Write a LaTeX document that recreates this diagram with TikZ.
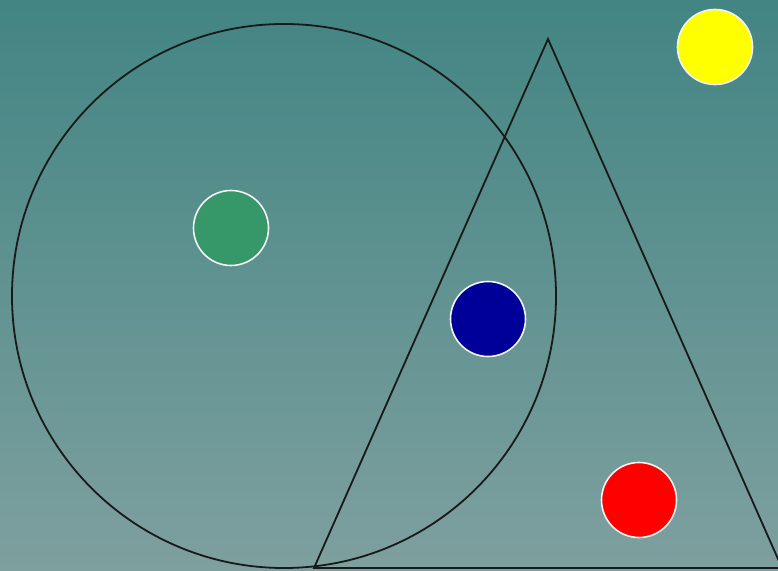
\documentclass[tikz,border=0pt]{standalone}
\begin{document}
\begin{tikzpicture}[x=1pt,y=1pt,
  dot/.style={circle,draw=white!90!gray,line width=1.6pt,minimum size=75pt,inner sep=0pt},
  outline/.style={draw=black!90,line width=1.8pt}]
\definecolor{bgtop}{RGB}{66,133,131}
\definecolor{bgbot}{RGB}{126,160,159}
\definecolor{dotgreen}{RGB}{54,152,104}
\definecolor{dotblue}{RGB}{0,0,153}
\definecolor{dotyellow}{RGB}{255,255,0}
\useasboundingbox (0,0) rectangle (778,570);
\clip (0,0) rectangle (778,570);
\shade[top color=bgtop,bottom color=bgbot] (0,0) rectangle (778,570);
\node[outline,circle,minimum size=544pt,inner sep=0pt] (big) at (284,274) {};
\coordinate (apex) at (548,531);
\coordinate (bl) at (314,2);
\coordinate (br) at (782,2);
\draw[outline,line join=miter] (apex) -- (bl) -- (br) -- cycle;
\node[dot,fill=dotgreen] (g) at (231,342) {};
\node[dot,fill=dotblue] (b) at (488,251) {};
\node[dot,fill=red] (r) at (639,70) {};
\node[dot,fill=dotyellow] (y) at (715,523) {};
\end{tikzpicture}
\end{document}
